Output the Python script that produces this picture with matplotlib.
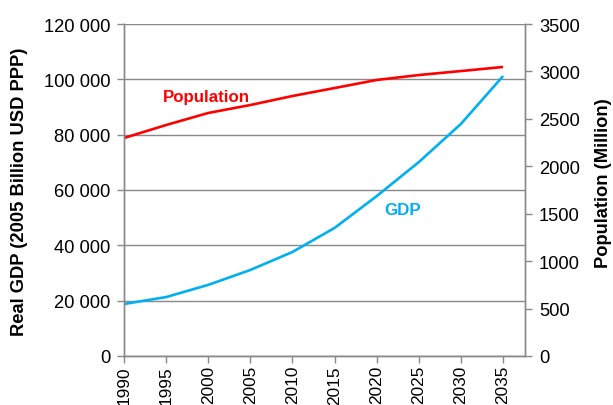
import matplotlib
matplotlib.use('Agg')
import matplotlib.pyplot as plt
from matplotlib.ticker import FuncFormatter

plt.rcParams['font.family'] = ['Liberation Sans', 'DejaVu Sans']

# Data ---------------------------------------------------------
years = [1990, 1995, 2000, 2005, 2010, 2015, 2020, 2025, 2030, 2035]
gdp = [18800, 21300, 25700, 31100, 37600, 46300, 57800, 70100, 83900, 101200]
population = [2298, 2435, 2562, 2646, 2741, 2825, 2910, 2962, 3004, 3047]

gdp_ticks = [0, 20000, 40000, 60000, 80000, 100000, 120000]
pop_ticks = [0, 500, 1000, 1500, 2000, 2500, 3000, 3500]

red = '#FF0000'
cyan = '#00B0F0'
grey = '#898989'
fs = 13.2

fig = plt.figure(figsize=(6.13, 4.06), dpi=100)
ax = fig.add_axes([124 / 613, 49 / 406, 401 / 613, 332 / 406])
ax2 = ax.twinx()

ax.plot(years, gdp, color=cyan, lw=1.9, solid_capstyle='butt')
ax2.plot(years, population, color=red, lw=1.9, solid_capstyle='butt')

ax.set_xlim(1990, 2037.6)
ax.set_ylim(0, 120000)
ax2.set_ylim(0, 3500)
ax.set_xticks(years)
ax.set_xticklabels([str(y) for y in years], rotation=90, va='top')
ax.set_yticks(gdp_ticks)
ax.yaxis.set_major_formatter(FuncFormatter(lambda v, p: f'{int(v):,}'.replace(',', ' ')))
ax2.set_yticks(pop_ticks)

ax.grid(axis='y', color=grey, lw=1)
ax.set_axisbelow(True)

for a in (ax, ax2):
    a.spines['top'].set_visible(False)
    for s in ('left', 'right', 'bottom'):
        a.spines[s].set_color(grey)
        a.spines[s].set_linewidth(1)
    a.tick_params(colors=grey, labelcolor='black', labelsize=fs, length=5, width=1)

ax.tick_params(axis='y', pad=5)
ax2.tick_params(axis='y', pad=5)
# x labels shrunk a touch so the years fit inside the picture
ax.tick_params(axis='x', pad=1.5, labelsize=12.4)

# axis titles
fig.text(20 / 613, 1 - 192 / 406, 'Real GDP (2005 Billion USD PPP)', rotation=90,
         ha='center', va='center', fontsize=fs, fontweight='bold')
fig.text(603 / 613, 1 - 183 / 406, 'Population (Million)', rotation=90,
         ha='center', va='center', fontsize=fs, fontweight='bold')

ax2.text(1994.6, 2740, 'Population', color=red, fontsize=12.2, fontweight='bold', va='center')
ax.text(2020.9, 53100, 'GDP', color=cyan, fontsize=12.2, fontweight='bold', va='center')

fig.savefig('out.png', dpi=100)
